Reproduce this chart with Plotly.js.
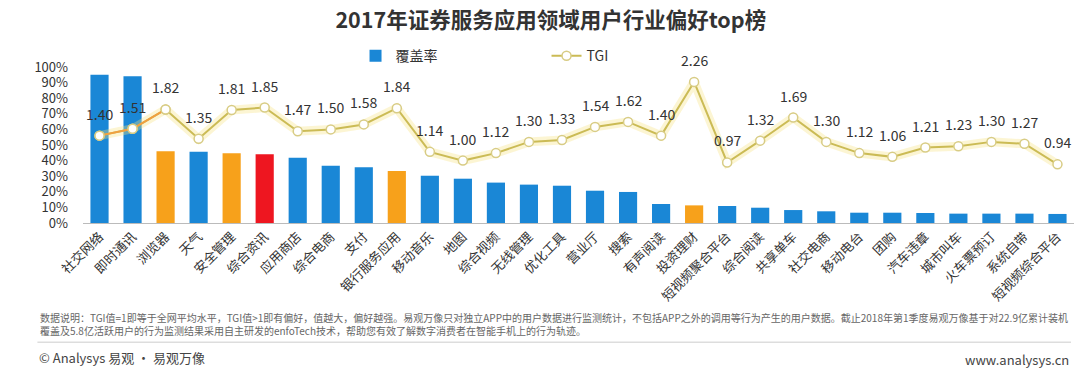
<!DOCTYPE html>
<html>
<head>
<meta charset="utf-8">
<script src="https://cdn.plot.ly/plotly-3.0.1.min.js"></script>
<style>
  html, body { margin: 0; padding: 0; background: #fff; }
  #chart { width: 1080px; height: 376px; }
</style>
</head>
<body>
<div id="chart"></div>
<script>
// --- data ---
const categories = [
  '社交网络', '即时通讯', '浏览器', '天气', '安全管理', '综合资讯', '应用商店', '综合电商',
  '支付', '银行服务应用', '移动音乐', '地图', '综合视频', '无线管理', '优化工具', '营业厅',
  '搜索', '有声阅读', '投资理财', '短视频聚合平台', '综合阅读', '共享单车', '社交电商',
  '移动电台', '团购', '汽车违章', '城市叫车', '火车票预订', '系统自带', '短视频综合平台'
];
const coverage = [
  95, 94, 46, 45.7, 44.7, 44, 41.9, 36.7,
  35.7, 33.3, 30.3, 28.4, 25.9, 24.6, 23.9, 20.7,
  19.9, 12.2, 11.3, 10.9, 9.8, 8.3, 7.5,
  6.6, 6.6, 6.4, 6.0, 6.0, 6.0, 5.8
];
const tgi = [
  1.40, 1.51, 1.82, 1.35, 1.81, 1.85, 1.47, 1.50,
  1.58, 1.84, 1.14, 1.00, 1.12, 1.30, 1.33, 1.54,
  1.62, 1.40, 2.26, 0.97, 1.32, 1.69, 1.30,
  1.12, 1.06, 1.21, 1.23, 1.30, 1.27, 0.94
];
// highlighted categories
const orangeCats = ['浏览器', '安全管理', '银行服务应用', '投资理财'];
const redCats = ['综合资讯'];

const FONT = '"Noto Sans CJK SC", "Noto Sans", sans-serif';
const BLUE = '#1a87d6';
const ORANGE = '#f7a11b';
const RED = '#ee1620';
const GOLD = '#cbbb55';

const barColors = categories.map(c =>
  redCats.includes(c) ? RED : (orangeCats.includes(c) ? ORANGE : BLUE));

const traces = [
  {
    type: 'bar',
    name: '覆盖率',
    x: categories,
    y: coverage,
    width: 0.55,
    marker: { color: barColors, line: { width: 0 } },
    hoverinfo: 'x+y',
  },
  // soft glow under the TGI line
  {
    type: 'scatter',
    mode: 'lines',
    x: categories,
    y: tgi,
    yaxis: 'y2',
    line: { color: 'rgba(245,225,130,0.35)', width: 9 },
    showlegend: false,
    hoverinfo: 'skip',
  },
  {
    type: 'scatter',
    mode: 'lines+markers',
    name: 'TGI',
    x: categories,
    y: tgi,
    yaxis: 'y2',
    line: { color: GOLD, width: 2 },
    marker: { color: '#fff', size: 9, line: { color: '#d8cc85', width: 1.5 } },
  },
  // first segment is drawn orange in the source
  {
    type: 'scatter',
    mode: 'lines+markers',
    x: categories.slice(0, 3),
    y: tgi.slice(0, 3),
    yaxis: 'y2',
    line: { color: '#f0a040', width: 2 },
    marker: { color: '#fff', size: 9, line: { color: '#d8cc85', width: 1.5 } },
    showlegend: false,
    hoverinfo: 'skip',
  },
];

// TGI value labels
const annotations = tgi.map((v, i) => ({
  x: categories[i], y: v, xref: 'x', yref: 'y2',
  text: v.toFixed(2), showarrow: false, yshift: 22,
  font: { family: FONT, size: 14, color: '#333' },
}));

annotations.push(
  {
    xref: 'paper', yref: 'paper', x: -0.045, y: -0.545, xanchor: 'left', yanchor: 'top',
    align: 'left', showarrow: false,
    text: '数据说明：TGI值=1即等于全网平均水平，TGI值>1即有偏好，值越大，偏好越强。易观万像只对独立APP中的用户数据进行监测统计，不包括APP之外的调用等行为产生的用户数据。截止2018年第1季度易观万像基于对22.9亿累计装机<br>覆盖及5.8亿活跃用户的行为监测结果采用自主研发的enfoTech技术，帮助您有效了解数字消费者在智能手机上的行为轨迹。',
    font: { family: FONT, size: 10, color: '#666' },
  },
  {
    xref: 'paper', yref: 'paper', x: -0.046, y: -0.86, xanchor: 'left', yanchor: 'middle',
    showarrow: false, text: '© Analysys 易观 · 易观万像',
    font: { family: FONT, size: 13, color: '#444' },
  },
  {
    xref: 'paper', yref: 'paper', x: 0.997, y: -0.875, xanchor: 'right', yanchor: 'middle',
    showarrow: false, text: 'www.analysys.cn',
    font: { family: FONT, size: 13, color: '#444' },
  }
);

const layout = {
  width: 1080,
  height: 376,
  margin: { t: 67, b: 153, l: 83, r: 6 },
  paper_bgcolor: '#fff',
  plot_bgcolor: '#fff',
  font: { family: FONT, color: '#333' },
  title: {
    text: '<b>2017年证券服务应用领域用户行业偏好top榜</b>',
    font: { family: FONT, size: 21.5, color: '#333' },
    x: 0.51, xanchor: 'center', y: 0.945, yanchor: 'middle',
  },
  showlegend: true,
  legend: {
    orientation: 'h',
    x: 0.275, y: 1.07, xanchor: 'left', yanchor: 'middle',
    entrywidth: 146, entrywidthmode: 'pixels',
    font: { family: FONT, size: 14, color: '#333' },
    bgcolor: 'rgba(0,0,0,0)',
  },
  bargap: 0.45,
  xaxis: {
    type: 'category',
    range: [-0.5, categories.length - 0.5],
    tickangle: -45,
    tickfont: { family: FONT, size: 13, color: '#333' },
    showline: true, linecolor: '#bbb', linewidth: 1,
    showgrid: false, ticks: '',
  },
  yaxis: {
    range: [0, 100],
    dtick: 10,
    ticksuffix: '%',
    tickfont: { family: FONT, size: 13, color: '#333' },
    ticklabelstandoff: 14,
    showgrid: false, zeroline: false, showline: false,
  },
  yaxis2: {
    overlaying: 'y',
    range: [0, 2.5],
    visible: false,
  },
  shapes: [
    {
      type: 'line', xref: 'paper', yref: 'paper',
      x0: -0.046, x1: 0.997, y0: -0.765, y1: -0.765,
      line: { color: '#ddd', width: 1.5 },
    },
  ],
  annotations,
};

Plotly.newPlot('chart', traces, layout, { displayModeBar: false, staticPlot: true });
</script>
</body>
</html>
